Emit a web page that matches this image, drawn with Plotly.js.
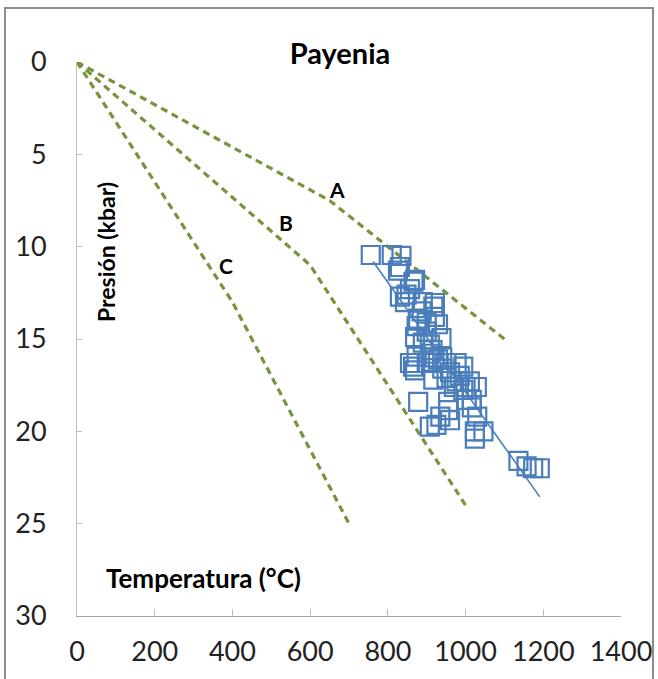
<!DOCTYPE html>
<html>
<head>
<meta charset="utf-8">
<script src="https://cdn.plot.ly/plotly-3.0.1.min.js"></script>
<style>html,body{margin:0;padding:0;background:#fff;}#chart{width:658px;height:679px;}</style>
</head>
<body>
<div id="chart"></div>
<script>
// Geotherm curves (Temperature °C, Pressure kbar)
const curveA_T = [0, 650, 1100];
const curveA_P = [0, 7.5, 15];
const curveB_T = [0, 600, 1000];
const curveB_P = [0, 11, 24];
const curveC_T = [0, 400, 700];
const curveC_P = [0, 13, 25];

// Payenia samples
const sampleT = [756, 810, 835, 831, 826, 870, 866, 857, 848, 831, 844, 890, 921, 917, 887, 921, 878, 877, 900,
  874, 929, 870, 938, 908, 874, 865, 900, 929, 951, 977, 994, 917, 951, 977, 1011, 994, 1029, 878, 955, 1016,
  910, 920, 940, 960, 985, 1000, 970, 940, 890, 900, 915, 857, 870,
  955, 1003, 1016, 925, 908, 960, 1024, 1046, 1024, 1030, 935,
  1136, 1157, 1174, 1191];
const sampleP = [10.45, 10.45, 10.5, 11.1, 11.3, 11.8, 11.9, 12.3, 12.6, 12.7, 13.0, 13.0, 13.05, 13.25, 13.5, 13.8, 13.9, 14.0, 14.1,
  14.3, 14.2, 14.9, 14.95, 15.3, 15.95, 16.5, 16.3, 16.1, 16.3, 16.3, 16.5, 17.2, 17.1, 17.3, 17.3, 17.75, 17.6, 18.4, 18.4, 18.3,
  15.8, 16.0, 16.6, 16.8, 17.0, 17.6, 17.6, 16.0, 15.2, 14.6, 15.6, 16.3, 16.7,
  18.85, 18.3, 18.7, 19.65, 19.75, 19.4, 20.0, 20.0, 20.4, 19.2, 19.2,
  21.6, 21.9, 22.0, 22.0];

// Linear trend endpoints
const trendT = [762, 1191];
const trendP = [10.8, 23.55];

const curveLabels = ['A', 'B', 'C'];
const labelT = [669, 538, 383];
const labelP = [6.9, 8.7, 11.0];

const xTicks = [0, 200, 400, 600, 800, 1000, 1200, 1400];
const yTicks = [0, 5, 10, 15, 20, 25, 30];

const green = '#77933c';
const blue = '#4a7ebb';
const font = 'Lato, "Open Sans", sans-serif';

const dashLine = (x, y) => ({x, y, mode: 'lines', type: 'scatter', showlegend: false, hoverinfo: 'skip',
  line: {color: green, width: 3.2, dash: '7px,5px'}});

const traces = [
  dashLine(curveA_T, curveA_P),
  dashLine(curveB_T, curveB_P),
  dashLine(curveC_T, curveC_P),
  {x: trendT, y: trendP, mode: 'lines', type: 'scatter', showlegend: false, line: {color: blue, width: 1.6}},
  {x: sampleT, y: sampleP, mode: 'markers', type: 'scatter', showlegend: false,
   marker: {symbol: 'square-open', size: 18, color: blue, line: {width: 2.2, color: blue}}}
];

const annotations = curveLabels.map((t, i) => ({x: labelT[i], y: labelP[i], xref: 'x', yref: 'y', text: t,
  showarrow: false, font: {family: font, size: 21, color: '#000', weight: 'bold'}}));
annotations.push({text: 'Presión (kbar)', xref: 'paper', yref: 'paper', x: (106 - 77) / 544, y: (616 - 252) / 554,
  xanchor: 'center', yanchor: 'middle',
  textangle: -90, showarrow: false, font: {family: font, size: 23, color: '#000', weight: 'bold'}});
annotations.push({text: 'Temperatura (°C)', xref: 'paper', yref: 'paper', x: (203 - 77) / 544, y: (616 - 578) / 554,
  xanchor: 'center', yanchor: 'middle',
  showarrow: false, font: {family: font, size: 26, color: '#000', weight: 'bold'}});

const layout = {
  width: 658, height: 679,
  margin: {l: 77, r: 37, t: 62, b: 63},
  paper_bgcolor: '#fff', plot_bgcolor: '#fff',
  title: {text: '<b>Payenia</b>', x: 340 / 658, xanchor: 'center', y: 1 - 54 / 679, yanchor: 'middle',
    font: {family: font, size: 29, color: '#000'}},
  xaxis: {range: [0, 1400], tickvals: xTicks, ticks: 'inside', ticklen: 7, tickcolor: '#bfbfbf',
    showline: true, linecolor: '#a6a6a6', linewidth: 1, showgrid: false, zeroline: false,
    tickfont: {family: font, size: 27, color: '#222'}, ticklabelstandoff: 12},
  yaxis: {range: [30, 0], tickvals: yTicks, ticks: 'inside', ticklen: 5, tickcolor: '#bfbfbf',
    showline: true, linecolor: '#bfbfbf', linewidth: 1, showgrid: false, zeroline: false,
    tickfont: {family: font, size: 27, color: '#222'}, ticklabelstandoff: 24},
  annotations,
  shapes: [{type: 'rect', xref: 'paper', yref: 'paper', x0: -72 / 544, x1: 576 / 544, y0: -74 / 554, y1: 608 / 554,
    line: {color: '#8c8c8c', width: 2}, fillcolor: 'rgba(0,0,0,0)'}]
};

Plotly.newPlot('chart', traces, layout, {displayModeBar: false, staticPlot: true});
</script>
</body>
</html>
